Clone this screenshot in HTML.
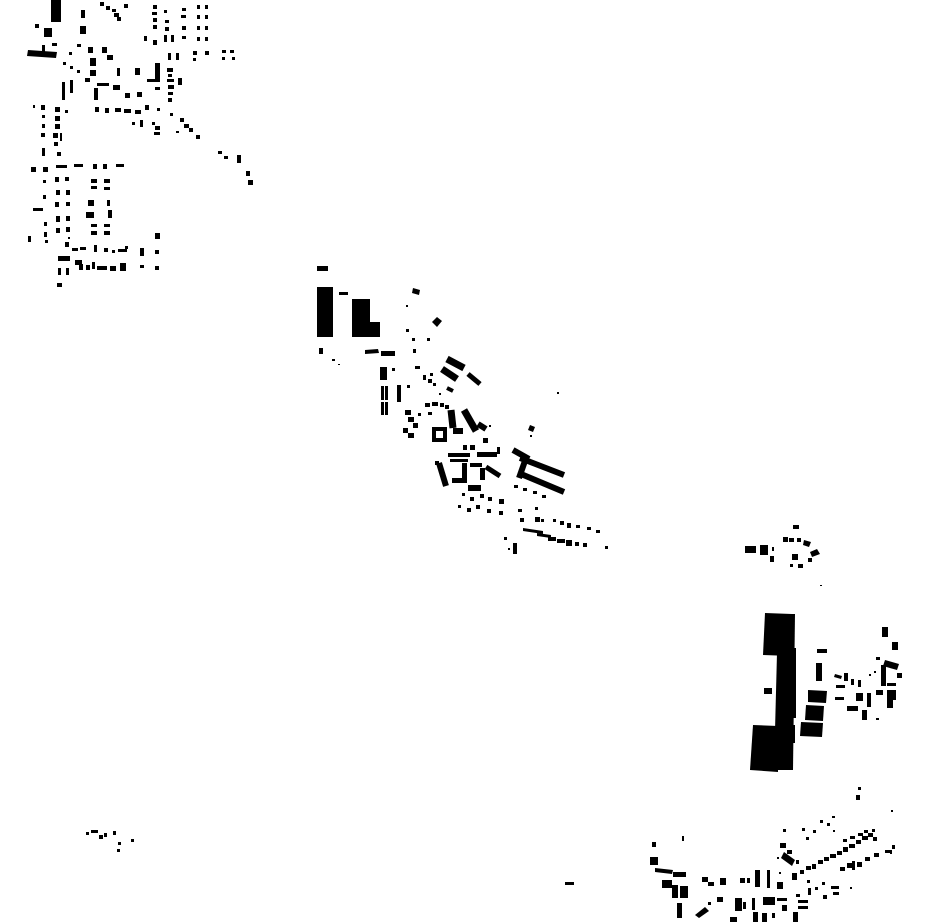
<!DOCTYPE html>
<html><head><style>html,body{margin:0;padding:0;background:#fff}svg{display:block}</style></head>
<body>
<svg width="930" height="924" viewBox="0 0 930 924" xmlns="http://www.w3.org/2000/svg">
<g fill="#000" stroke="none">
<!-- top-left -->
<rect x="51" y="0" width="10" height="22"/><rect x="44" y="28" width="8" height="9"/><rect x="35" y="24" width="4" height="4"/>
<polygon points="28,50 57,52 56,58 27,56"/><rect x="42" y="45" width="3" height="8"/><rect x="52" y="43" width="5" height="3"/>
<rect x="81" y="10" width="4" height="8"/><rect x="80" y="26" width="6" height="8"/>
<rect x="100" y="2" width="4" height="4"/><rect x="106" y="6" width="4" height="4"/><rect x="112" y="9" width="4" height="3"/><rect x="124" y="4" width="4" height="4"/>
<rect x="114" y="13" width="5" height="4"/><rect x="117" y="17" width="4" height="4"/>
<rect x="153" y="5" width="4" height="4"/><rect x="152" y="12" width="5" height="3"/><rect x="153" y="18" width="4" height="4"/><rect x="153" y="25" width="4" height="4"/><rect x="144" y="36" width="3" height="5"/><rect x="153" y="40" width="4" height="5"/>
<rect x="164" y="10" width="3" height="3"/><rect x="165" y="20" width="4" height="3"/><rect x="165" y="27" width="4" height="4"/><rect x="164" y="35" width="3" height="7"/><rect x="171" y="35" width="3" height="7"/>
<rect x="182" y="8" width="4" height="3"/><rect x="181" y="15" width="5" height="3"/><rect x="182" y="26" width="4" height="4"/><rect x="182" y="36" width="4" height="3"/>
<rect x="197" y="5" width="3" height="4"/><rect x="205" y="5" width="3" height="4"/><rect x="197" y="15" width="3" height="4"/><rect x="205" y="15" width="3" height="4"/><rect x="197" y="26" width="3" height="4"/><rect x="205" y="26" width="3" height="4"/><rect x="197" y="37" width="3" height="4"/><rect x="205" y="37" width="3" height="4"/>
<rect x="168" y="53" width="3" height="7"/><rect x="176" y="53" width="3" height="7"/><rect x="193" y="51" width="4" height="4"/><rect x="205" y="51" width="4" height="4"/><rect x="193" y="58" width="3" height="3"/>
<rect x="222" y="50" width="4" height="3"/><rect x="230" y="50" width="4" height="3"/><rect x="222" y="57" width="3" height="3"/><rect x="232" y="57" width="3" height="3"/>
<rect x="69" y="52" width="3" height="3"/><rect x="77" y="44" width="4" height="3"/><rect x="63" y="62" width="3" height="3"/><rect x="70" y="66" width="3" height="3"/><rect x="77" y="70" width="3" height="3"/>
<rect x="88" y="47" width="5" height="6"/><rect x="102" y="47" width="5" height="6"/><rect x="90" y="58" width="6" height="8"/><rect x="90" y="70" width="6" height="6"/><rect x="107" y="55" width="6" height="5"/>
<rect x="117" y="68" width="3" height="8"/><rect x="135" y="68" width="5" height="7"/>
<rect x="155" y="63" width="5" height="18"/><rect x="147" y="79" width="13" height="3"/><rect x="155" y="87" width="5" height="3"/>
<rect x="167" y="68" width="6" height="4"/><rect x="168" y="74" width="4" height="3"/><rect x="167" y="79" width="7" height="3"/><rect x="168" y="85" width="6" height="4"/><rect x="168" y="92" width="5" height="3"/><rect x="168" y="98" width="4" height="4"/><rect x="178" y="78" width="4" height="7"/>
<rect x="85" y="78" width="5" height="4"/><rect x="70" y="80" width="3" height="13"/><rect x="62" y="82" width="3" height="18"/>
<rect x="97" y="83" width="12" height="3"/><rect x="94" y="88" width="4" height="12"/><rect x="113" y="85" width="7" height="5"/><rect x="125" y="93" width="5" height="5"/><rect x="137" y="92" width="5" height="5"/>
<rect x="95" y="107" width="4" height="5"/><rect x="105" y="108" width="4" height="5"/><rect x="115" y="108" width="6" height="4"/><rect x="124" y="109" width="7" height="4"/><rect x="135" y="110" width="6" height="4"/><rect x="145" y="105" width="4" height="5"/><rect x="157" y="108" width="3" height="3"/>
<rect x="132" y="122" width="3" height="3"/><rect x="140" y="120" width="3" height="7"/><rect x="152" y="122" width="3" height="3"/><rect x="155" y="126" width="5" height="4"/><rect x="154" y="132" width="6" height="3"/>
<rect x="170" y="113" width="3" height="3"/><rect x="180" y="118" width="4" height="4"/><rect x="184" y="124" width="5" height="4"/><rect x="189" y="128" width="4" height="4"/><rect x="196" y="135" width="4" height="4"/><rect x="176" y="131" width="3" height="2"/>
<rect x="218" y="151" width="4" height="3"/><rect x="224" y="156" width="4" height="3"/><rect x="237" y="155" width="4" height="8"/><rect x="246" y="171" width="4" height="5"/><rect x="248" y="180" width="5" height="5"/>
<rect x="33" y="105" width="2" height="3"/><rect x="41" y="105" width="4" height="5"/><rect x="42" y="115" width="3" height="3"/><rect x="42" y="124" width="3" height="4"/><rect x="41" y="133" width="4" height="4"/><rect x="42" y="148" width="3" height="8"/>
<rect x="55" y="107" width="5" height="5"/><rect x="55" y="116" width="5" height="5"/><rect x="55" y="124" width="5" height="5"/><rect x="53" y="133" width="5" height="5"/><rect x="60" y="133" width="2" height="8"/><rect x="54" y="142" width="4" height="4"/><rect x="57" y="152" width="4" height="4"/><rect x="65" y="110" width="3" height="3"/>
<rect x="31" y="167" width="5" height="5"/><rect x="43" y="167" width="5" height="5"/><rect x="56" y="165" width="11" height="3"/><rect x="74" y="164" width="9" height="3"/><rect x="93" y="164" width="4" height="5"/><rect x="103" y="164" width="4" height="5"/><rect x="116" y="164" width="8" height="3"/>
<rect x="55" y="177" width="4" height="5"/><rect x="65" y="177" width="4" height="4"/><rect x="56" y="190" width="4" height="5"/><rect x="66" y="190" width="4" height="5"/><rect x="55" y="202" width="4" height="5"/><rect x="66" y="202" width="4" height="4"/><rect x="56" y="216" width="4" height="6"/><rect x="66" y="216" width="4" height="5"/><rect x="56" y="228" width="4" height="5"/><rect x="66" y="227" width="4" height="5"/><rect x="68" y="237" width="2" height="2"/>
<rect x="91" y="179" width="6" height="4"/><rect x="104" y="179" width="6" height="4"/><rect x="91" y="186" width="6" height="3"/><rect x="104" y="187" width="6" height="3"/><rect x="88" y="200" width="6" height="6"/><rect x="107" y="200" width="3" height="6"/><rect x="86" y="212" width="8" height="6"/><rect x="108" y="210" width="4" height="8"/><rect x="91" y="224" width="6" height="3"/><rect x="104" y="224" width="6" height="3"/><rect x="91" y="231" width="6" height="4"/><rect x="104" y="231" width="6" height="4"/>
<rect x="33" y="208" width="10" height="3"/><rect x="28" y="236" width="3" height="6"/><rect x="43" y="180" width="3" height="3"/><rect x="43" y="195" width="3" height="4"/><rect x="44" y="222" width="3" height="4"/><rect x="44" y="232" width="3" height="5"/><rect x="45" y="240" width="3" height="3"/>
<rect x="155" y="233" width="5" height="6"/><rect x="155" y="250" width="4" height="4"/><rect x="155" y="266" width="4" height="4"/><rect x="140" y="248" width="4" height="8"/><rect x="140" y="265" width="4" height="3"/>
<rect x="65" y="242" width="4" height="5"/><rect x="72" y="248" width="6" height="3"/><rect x="80" y="247" width="6" height="3"/><rect x="94" y="245" width="3" height="7"/><rect x="104" y="248" width="4" height="4"/><rect x="112" y="250" width="3" height="3"/><rect x="118" y="249" width="9" height="3"/><rect x="125" y="246" width="3" height="3"/>
<rect x="58" y="256" width="12" height="5"/><rect x="58" y="268" width="3" height="7"/><rect x="66" y="268" width="3" height="7"/><rect x="57" y="283" width="5" height="4"/>
<rect x="75" y="260" width="7" height="5"/><rect x="79" y="264" width="4" height="6"/><rect x="86" y="265" width="4" height="5"/><rect x="92" y="262" width="3" height="7"/><rect x="97" y="266" width="10" height="4"/><rect x="110" y="266" width="6" height="5"/><rect x="120" y="263" width="6" height="8"/>
<!-- center -->
<rect x="317" y="266" width="11" height="5"/><rect x="317" y="287" width="16" height="50"/><rect x="339" y="292" width="9" height="3"/>
<rect x="352" y="299" width="18" height="24"/><rect x="352" y="322" width="28" height="15"/>
<rect x="319" y="348" width="4" height="6"/><rect x="332" y="359" width="3" height="2"/><rect x="338" y="364" width="2" height="1"/>
<polygon points="365,350 378,349 379,353 365,354"/><rect x="381" y="351" width="14" height="5"/>
<polygon points="413,288 420,290 419,295 412,293"/><rect x="406" y="305" width="2" height="2"/><polygon points="432,322 437,317 442,321 437,327"/><rect x="406" y="329" width="3" height="3"/><rect x="412" y="338" width="3" height="3"/><rect x="427" y="338" width="3" height="3"/><rect x="413" y="349" width="3" height="4"/><rect x="415" y="366" width="5" height="3"/>
<rect x="380" y="367" width="7" height="13"/><rect x="392" y="368" width="3" height="3"/><rect x="381" y="386" width="3" height="14"/><rect x="385" y="386" width="3" height="14"/><rect x="381" y="402" width="3" height="13"/><rect x="385" y="402" width="3" height="13"/><rect x="397" y="385" width="4" height="17"/>
</g>
<g stroke="#000" fill="none">
<line x1="447" y1="359" x2="464" y2="368" stroke-width="7"/><line x1="442" y1="369" x2="457" y2="379" stroke-width="7"/><line x1="468" y1="374" x2="480" y2="384" stroke-width="5"/><line x1="447" y1="388" x2="453" y2="391" stroke-width="4"/>
<line x1="464" y1="410" x2="476" y2="431" stroke-width="7"/><line x1="451" y1="410" x2="453" y2="428" stroke-width="7"/><line x1="478" y1="424" x2="486" y2="429" stroke-width="6"/>
<rect x="434" y="429" width="11" height="11" stroke-width="4"/>
<line x1="439" y1="463" x2="446" y2="486" stroke-width="6"/><line x1="486" y1="467" x2="500" y2="476" stroke-width="5"/>
<line x1="513" y1="450" x2="529" y2="459" stroke-width="6"/><line x1="520" y1="458" x2="564" y2="475" stroke-width="6"/><line x1="526" y1="458" x2="519" y2="478" stroke-width="6"/><line x1="521" y1="474" x2="564" y2="492" stroke-width="6"/>
</g>
<g fill="#000">
<rect x="423" y="375" width="3" height="5"/><rect x="430" y="373" width="3" height="3"/><rect x="428" y="379" width="4" height="4"/><rect x="433" y="383" width="3" height="3"/><rect x="439" y="393" width="2" height="2"/>
<rect x="405" y="410" width="6" height="5"/><rect x="408" y="417" width="6" height="5"/><rect x="403" y="428" width="5" height="5"/><rect x="408" y="433" width="6" height="5"/><rect x="413" y="423" width="5" height="5"/><rect x="418" y="413" width="3" height="3"/>
<rect x="425" y="403" width="5" height="4"/><rect x="432" y="402" width="6" height="4"/><rect x="440" y="403" width="4" height="4"/><rect x="428" y="412" width="4" height="3"/><rect x="445" y="405" width="4" height="4"/><rect x="407" y="385" width="3" height="3"/>
<rect x="453" y="428" width="10" height="6"/><rect x="463" y="445" width="4" height="5"/><rect x="470" y="445" width="5" height="5"/><rect x="483" y="438" width="5" height="5"/><rect x="489" y="425" width="2" height="2"/>
<rect x="448" y="453" width="22" height="4"/><rect x="450" y="459" width="18" height="3"/><rect x="477" y="452" width="20" height="5"/><rect x="497" y="447" width="3" height="7"/>
<rect x="452" y="478" width="15" height="5"/><rect x="462" y="463" width="5" height="17"/><rect x="470" y="463" width="12" height="4"/><rect x="480" y="468" width="5" height="12"/><rect x="468" y="485" width="13" height="6"/><rect x="435" y="461" width="4" height="4"/>
<polygon points="530,425 535,427 533,432 528,430"/><rect x="530" y="435" width="2" height="2"/><rect x="557" y="392" width="2" height="2"/>
<rect x="514" y="485" width="4" height="3"/><rect x="523" y="488" width="4" height="3"/><rect x="533" y="491" width="4" height="3"/><rect x="542" y="495" width="4" height="3"/>
<rect x="462" y="493" width="3" height="3"/><rect x="470" y="497" width="4" height="4"/><rect x="480" y="494" width="4" height="4"/><rect x="488" y="497" width="4" height="4"/><rect x="499" y="499" width="5" height="5"/><rect x="458" y="505" width="3" height="3"/><rect x="467" y="508" width="4" height="4"/><rect x="476" y="505" width="4" height="4"/><rect x="487" y="509" width="4" height="4"/><rect x="499" y="511" width="4" height="4"/>
<rect x="518" y="509" width="4" height="3"/><rect x="520" y="518" width="4" height="4"/><rect x="535" y="507" width="3" height="3"/><rect x="535" y="517" width="5" height="5"/><rect x="541" y="519" width="3" height="3"/><rect x="553" y="519" width="3" height="3"/><rect x="560" y="521" width="4" height="4"/><rect x="567" y="523" width="4" height="5"/><rect x="576" y="525" width="4" height="3"/><rect x="587" y="527" width="4" height="3"/><rect x="596" y="530" width="4" height="3"/>
<polygon points="523,528 543,531 543,534 523,531"/><polygon points="537,533 551,535 551,538 537,536"/><rect x="548" y="537" width="8" height="4"/><rect x="557" y="539" width="8" height="4"/><rect x="566" y="540" width="6" height="6"/><rect x="575" y="542" width="4" height="4"/><rect x="583" y="543" width="4" height="4"/><rect x="605" y="546" width="3" height="3"/><rect x="504" y="537" width="3" height="3"/><rect x="513" y="543" width="4" height="11"/><rect x="508" y="548" width="2" height="2"/>
<!-- right top -->
<rect x="745" y="546" width="11" height="7"/><rect x="760" y="545" width="8" height="10"/><rect x="772" y="547" width="2" height="4"/><rect x="770" y="556" width="4" height="6"/>
<rect x="793" y="525" width="6" height="4"/><rect x="783" y="537" width="5" height="5"/><rect x="789" y="538" width="5" height="4"/><rect x="797" y="538" width="4" height="4"/><polygon points="804,540 811,542 809,547 803,545"/><rect x="792" y="554" width="6" height="6"/><rect x="790" y="564" width="3" height="3"/><rect x="798" y="564" width="5" height="4"/><polygon points="810,552 817,549 820,554 812,557"/><rect x="808" y="558" width="4" height="4"/><rect x="820" y="585" width="2" height="1"/>
<!-- big slab -->
<polygon points="765,613 792,614 791,656 763,655"/><polygon points="778,614 795,614 793,770 774,770"/><polygon points="753,725 778,726 778,772 750,770"/>
<rect x="789" y="648" width="7" height="49"/><rect x="790" y="695" width="6" height="23"/><rect x="789" y="725" width="6" height="18"/>
<polygon points="808,690 827,691 826,703 808,702"/><polygon points="806,705 824,706 823,721 805,720"/><polygon points="801,722 823,723 822,737 800,736"/>
<rect x="816" y="663" width="6" height="18"/><rect x="817" y="649" width="10" height="4"/><rect x="764" y="688" width="8" height="6"/>
<rect x="882" y="627" width="6" height="10"/><rect x="892" y="642" width="6" height="8"/><polygon points="885,660 899,664 897,670 883,666"/><rect x="876" y="657" width="4" height="3"/><rect x="881" y="665" width="5" height="21"/><rect x="887" y="683" width="9" height="3"/><rect x="897" y="673" width="5" height="5"/>
<polygon points="835,674 842,676 841,679 834,677"/><rect x="844" y="673" width="4" height="8"/><rect x="851" y="679" width="3" height="6"/><rect x="858" y="680" width="3" height="7"/><rect x="836" y="685" width="9" height="3"/><rect x="835" y="697" width="9" height="3"/><rect x="847" y="706" width="11" height="5"/><rect x="856" y="693" width="7" height="8"/><rect x="867" y="693" width="4" height="14"/><rect x="876" y="690" width="7" height="5"/><rect x="887" y="690" width="6" height="18"/><rect x="893" y="690" width="3" height="10"/><rect x="862" y="710" width="5" height="10"/><rect x="869" y="674" width="2" height="2"/><rect x="874" y="671" width="2" height="2"/><rect x="876" y="718" width="3" height="2"/>
<!-- bottom right -->
<rect x="858" y="787" width="3" height="3"/><rect x="856" y="795" width="4" height="5"/><rect x="891" y="810" width="2" height="2"/>
<rect x="652" y="842" width="4" height="5"/><rect x="682" y="836" width="2" height="5"/><rect x="650" y="857" width="8" height="8"/><polygon points="655,868 673,870 672,874 655,872"/><rect x="673" y="872" width="13" height="5"/><rect x="662" y="880" width="10" height="8"/><rect x="672" y="885" width="6" height="13"/><rect x="680" y="886" width="8" height="12"/><rect x="677" y="903" width="5" height="15"/><polygon points="695,915 705,907 709,911 699,918"/><rect x="708" y="902" width="3" height="3"/><rect x="717" y="897" width="6" height="5"/>
<rect x="702" y="877" width="6" height="5"/><rect x="708" y="882" width="6" height="4"/><rect x="720" y="878" width="6" height="7"/><rect x="740" y="878" width="5" height="5"/><rect x="747" y="878" width="3" height="5"/><rect x="755" y="870" width="5" height="17"/><rect x="767" y="870" width="3" height="18"/><rect x="777" y="882" width="6" height="7"/><rect x="779" y="872" width="2" height="2"/>
<rect x="735" y="898" width="7" height="13"/><rect x="743" y="902" width="3" height="7"/><rect x="752" y="898" width="3" height="12"/><rect x="763" y="897" width="12" height="8"/><rect x="777" y="898" width="10" height="3"/><rect x="730" y="917" width="7" height="5"/><rect x="753" y="912" width="5" height="10"/><rect x="762" y="913" width="5" height="9"/><rect x="772" y="913" width="3" height="5"/><rect x="782" y="905" width="5" height="6"/><rect x="793" y="912" width="5" height="10"/><rect x="798" y="900" width="10" height="3"/><rect x="798" y="906" width="10" height="3"/><rect x="796" y="894" width="4" height="3"/>
<rect x="780" y="843" width="6" height="5"/><polygon points="784,852 795,860 792,866 781,858"/><rect x="787" y="850" width="5" height="4"/><rect x="796" y="860" width="3" height="4"/><rect x="777" y="857" width="2" height="2"/>
<rect x="792" y="873" width="5" height="7"/>
<rect x="800" y="870" width="4" height="4"/><rect x="806" y="866" width="5" height="4"/><rect x="812" y="864" width="4" height="5"/><rect x="818" y="860" width="5" height="4"/><rect x="824" y="857" width="5" height="4"/><rect x="830" y="854" width="6" height="4"/><rect x="837" y="851" width="5" height="4"/><rect x="843" y="847" width="5" height="5"/><rect x="849" y="844" width="6" height="4"/><rect x="856" y="840" width="5" height="4"/><rect x="862" y="836" width="6" height="4"/><rect x="868" y="833" width="5" height="4"/><rect x="873" y="837" width="4" height="4"/>
<rect x="843" y="839" width="4" height="3"/><rect x="850" y="836" width="5" height="3"/><rect x="858" y="833" width="5" height="3"/><rect x="864" y="830" width="4" height="3"/><rect x="872" y="829" width="3" height="3"/>
<rect x="840" y="867" width="5" height="4"/><rect x="847" y="863" width="5" height="5"/><rect x="852" y="861" width="3" height="9"/><rect x="857" y="862" width="5" height="5"/><rect x="865" y="857" width="5" height="4"/><rect x="874" y="853" width="5" height="4"/><rect x="885" y="850" width="5" height="3"/><rect x="892" y="845" width="3" height="4"/><rect x="890" y="850" width="2" height="4"/>
<rect x="783" y="829" width="3" height="3"/><rect x="802" y="828" width="3" height="3"/><rect x="806" y="837" width="3" height="3"/><rect x="813" y="830" width="3" height="3"/><rect x="820" y="820" width="3" height="3"/><rect x="827" y="823" width="3" height="3"/><rect x="832" y="816" width="3" height="2"/><rect x="833" y="830" width="2" height="2"/>
<rect x="807" y="880" width="3" height="3"/><rect x="815" y="887" width="3" height="3"/><rect x="822" y="882" width="3" height="3"/><rect x="808" y="888" width="3" height="7"/><rect x="823" y="895" width="4" height="4"/><rect x="831" y="886" width="8" height="3"/><rect x="833" y="892" width="6" height="3"/><rect x="850" y="887" width="2" height="2"/>
<!-- misc -->
<rect x="565" y="882" width="9" height="3"/>
<rect x="86" y="832" width="3" height="3"/><rect x="91" y="830" width="7" height="3"/><rect x="99" y="835" width="4" height="4"/><rect x="104" y="833" width="3" height="4"/><rect x="113" y="831" width="3" height="4"/><rect x="118" y="842" width="3" height="3"/><rect x="117" y="849" width="3" height="3"/><rect x="131" y="839" width="3" height="3"/>
</g>
</svg>
</body></html>
